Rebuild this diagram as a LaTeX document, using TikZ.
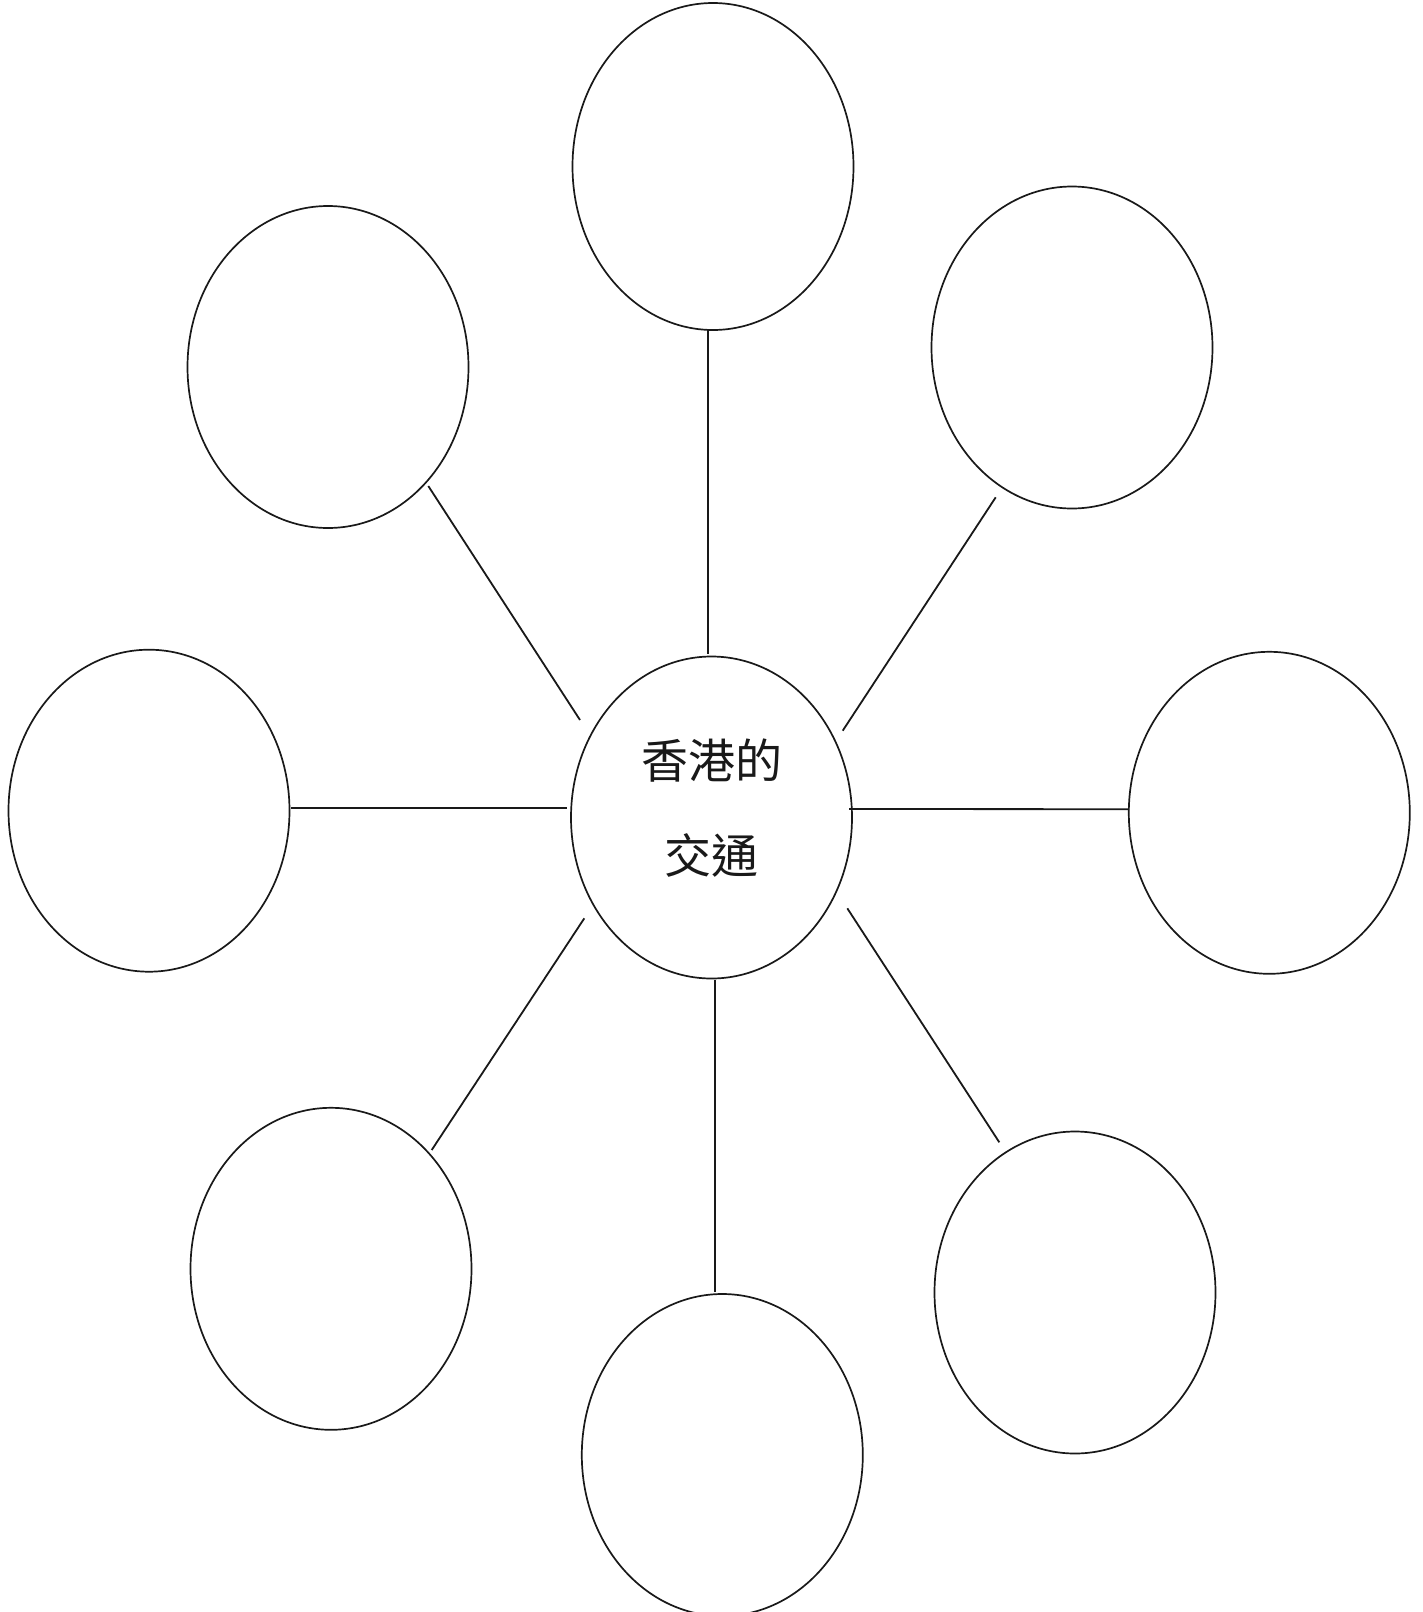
\documentclass[tikz,border=0pt]{standalone}
\usepackage{fontspec}
\newfontfamily\cjk{Noto Sans CJK TC}
\usetikzlibrary{shapes.geometric,calc}
\begin{document}
\begin{tikzpicture}[x=1pt,y=-1pt,
  bubble/.style={draw=black!90, line width=1.7pt, ellipse, inner sep=0pt,
    minimum width=281pt, minimum height=322pt},
  spoke/.style={draw=black!90, line width=1.8pt},
  label/.style={font=\cjk\fontsize{47}{95}\selectfont, text=black!90, align=center, inner sep=0pt}]
\useasboundingbox (0,0) rectangle (1422,1612);
\clip (0,0) rectangle (1422,1612);
\fill[white] (0,0) rectangle (1422,1612);
% bubbles
\node[bubble] (c)  at (711.5, 817.5) {};
\node[label]  (ctext) at (711.5, 808) {香港的\\交通};
\node[bubble, minimum height=327pt] (t)  at (713, 166.5) {};
\node[bubble] (tl) at (328, 367) {};
\node[bubble] (tr) at (1072, 347.5) {};
\node[bubble] (l)  at (149, 810.7) {};
\node[bubble] (r)  at (1269.3, 812.8) {};
\node[bubble] (bl) at (331, 1268.8) {};
\node[bubble] (b)  at (722.3, 1455) {};
\node[bubble] (br) at (1075, 1292.5) {};
% spokes
\draw[spoke] ($(t)+(-4.7,163.5)$) -- ($(c)+(-3.2,-163.5)$);
\draw[spoke] ($(tl)+(100.3,119)$) -- ($(c)+(-131.5,-97.5)$);
\draw[spoke] ($(tr)+(-76.3,149.8)$) -- ($(c)+(131.2,-86.8)$);
\draw[spoke] ($(l)+(142,-2.5)$) -- ($(c)+(-144.5,-9.3)$);
\draw[spoke] ($(r)+(-140.3,-3.6)$) -- ($(c)+(137.5,-8.5)$);
\draw[spoke] ($(bl)+(100.7,-118.8)$) -- ($(c)+(-127.2,100.8)$);
\draw[spoke] ($(b)+(-7.3,-163)$) -- ($(c)+(3.5,162.5)$);
\draw[spoke] ($(br)+(-75.7,-150.2)$) -- ($(c)+(135.8,90.8)$);
\end{tikzpicture}
\end{document}
